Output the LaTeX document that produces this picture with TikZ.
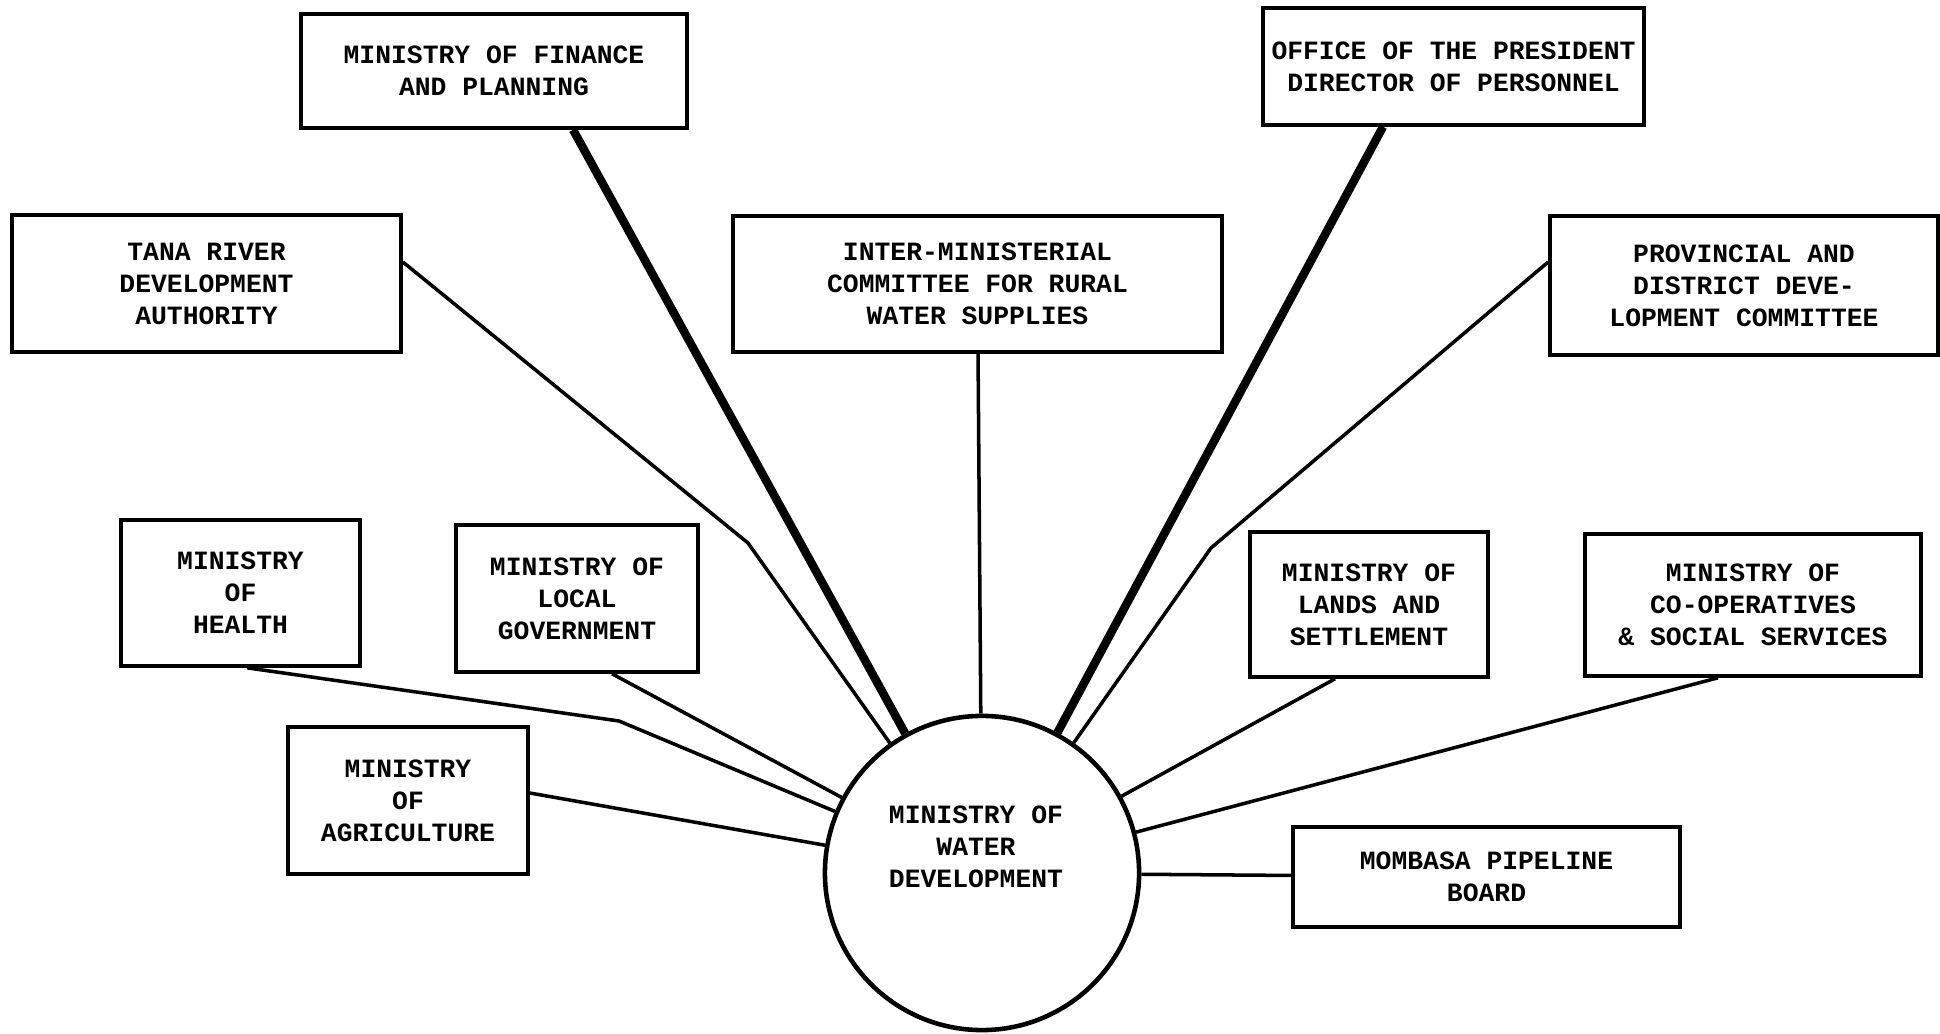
\documentclass[tikz,border=0pt]{standalone}
\usepackage{fontspec}
\setmonofont{Liberation Mono}

\begin{document}
\begin{tikzpicture}[x=0.01cm, y=-0.01cm,
    office/.style={draw, line width=1pt, inner sep=0pt, align=center,
      font=\ttfamily\bfseries\fontsize{7.5}{9.1}\selectfont},
    hub/.style={draw, circle, line width=1.3pt, minimum size=3.14cm, inner sep=0pt},
    link/.style={line width=1pt},
    heavylink/.style={line width=2.4pt}]
    \useasboundingbox (0,0) rectangle (1940,1034);

    % water development in the middle
    \node[hub] (water) at (982,873) {};
    \node[office, draw=none] (watertext) at (976,847) {MINISTRY OF\\WATER\\DEVELOPMENT};

    % top row
    \node[office, minimum width=3.86cm, minimum height=1.14cm] (finance) at (494,71) {MINISTRY OF FINANCE\\AND PLANNING};
    \node[office, minimum width=3.81cm, minimum height=1.17cm] (president) at (1453.5,66.5) {OFFICE OF THE PRESIDENT\\DIRECTOR OF PERSONNEL};

    % second row
    \node[office, minimum width=3.89cm, minimum height=1.37cm] (tana) at (206.5,283.5) {TANA RIVER\\DEVELOPMENT\\AUTHORITY};
    \node[office, minimum width=4.89cm, minimum height=1.36cm] (inter) at (977.5,284) {INTER-MINISTERIAL\\COMMITTEE FOR RURAL\\WATER SUPPLIES};
    \node[office, minimum width=3.88cm, minimum height=1.39cm] (provincial) at (1744,285.5) {PROVINCIAL AND\\DISTRICT DEVE-\\LOPMENT COMMITTEE};

    % third row
    \node[office, minimum width=2.39cm, minimum height=1.46cm] (health) at (240.5,593) {MINISTRY\\OF\\HEALTH};
    \node[office, minimum width=2.42cm, minimum height=1.47cm] (local) at (577,598.5) {MINISTRY OF\\LOCAL\\GOVERNMENT};
    \node[office, minimum width=2.38cm, minimum height=1.45cm] (lands) at (1369,604.5) {MINISTRY OF\\LANDS AND\\SETTLEMENT};
    \node[office, minimum width=3.36cm, minimum height=1.42cm] (coop) at (1753,605) {MINISTRY OF\\CO-OPERATIVES\\\& SOCIAL SERVICES};

    % bottom row
    \node[office, minimum width=2.40cm, minimum height=1.47cm] (agriculture) at (408,800.5) {MINISTRY\\OF\\AGRICULTURE};
    \node[office, minimum width=3.87cm, minimum height=1.00cm] (mombasa) at (1486.5,877) {MOMBASA PIPELINE\\BOARD};

    % bends
    \coordinate (tanabend) at (748,543);
    \coordinate (healthbend) at (619,721);
    \coordinate (provbend) at (1211,548);

    % links to the ministry
    \draw[heavylink] ([xshift=0.79cm]finance.south) -- (water);
    \draw[heavylink] ([xshift=-0.705cm]president.south) -- (water);
    \draw[link] ([yshift=0.215cm]tana.east) -- (tanabend) -- (water);
    \draw[link] (inter) -- (water);
    \draw[link] ([yshift=0.235cm]provincial.west) -- (provbend) -- (water);
    \draw[link] ([xshift=0.065cm]health.south) -- (healthbend) -- (water);
    \draw[link] ([xshift=0.35cm]local.south) -- (water);
    \draw[link] ([yshift=0.075cm]agriculture.east) -- (water);
    \draw[link] ([xshift=-0.34cm]lands.south) -- (water);
    \draw[link] ([xshift=-0.35cm]coop.south) -- (water);
    \draw[link] (water) -- (mombasa);
\end{tikzpicture}
\end{document}
